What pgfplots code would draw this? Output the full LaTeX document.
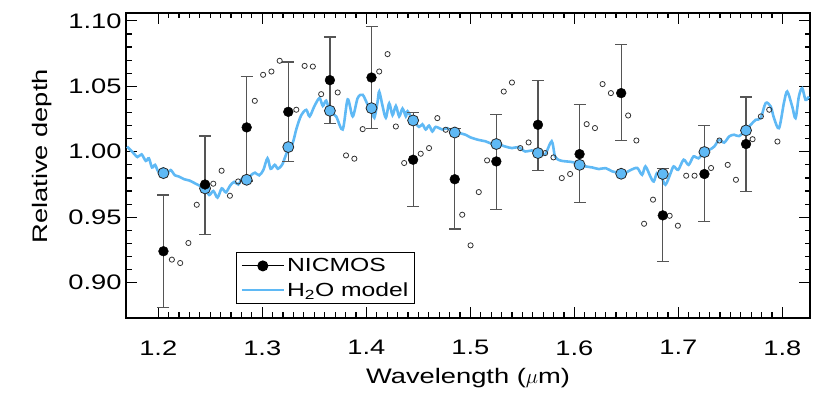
\documentclass[border=0pt]{standalone}
\usepackage{fontspec}
\setmainfont{Liberation Sans}[FakeStretch=1.3]
\usepackage{pgfplots}
\usepackage{pgfplotstable}
\pgfplotsset{compat=1.18}
\definecolor{modelblue}{RGB}{95,185,245}
\definecolor{barcol}{RGB}{85,85,85}

\pgfplotstableread{
x y
1.170 1.004
1.175 1.000
1.180 0.996
1.184 0.998
1.188 0.993
1.191 0.995
1.194 0.988
1.197 0.990
1.200 0.985
1.204 0.987
1.208 0.984
1.212 0.986
1.216 0.982
1.220 0.981
1.225 0.979
1.230 0.978
1.235 0.976
1.240 0.974
1.245 0.972
1.249 0.967
1.253 0.970
1.257 0.965
1.261 0.972
1.265 0.969
1.269 0.974
1.273 0.977
1.277 0.975
1.281 0.980
1.285 0.979
1.289 0.982
1.293 0.984
1.297 0.982
1.301 0.986
1.305 0.995
1.308 0.987
1.312 0.990
1.315 0.987
1.319 0.990
1.322 0.996
1.325 1.002
1.329 1.006
1.333 1.018
1.3375 1.028
1.3423 1.032
1.3455 1.027
1.3502 1.035
1.3550 1.041
1.3582 1.035
1.3614 1.039
1.365 1.031
1.3710 1.027
1.3773 1.017
1.3821 1.040
1.3869 1.027
1.3917 1.041
1.3965 1.0435
1.4013 1.036
1.405 1.033
1.4077 1.026
1.4108 1.038
1.4124 1.046
1.4156 1.035
1.4188 1.026
1.4220 1.037
1.4252 1.028
1.4284 1.035
1.4316 1.027
1.4348 1.033
1.4380 1.027
1.4396 1.031
1.445 1.024
1.4507 1.019
1.4539 1.021
1.4571 1.017
1.4603 1.020
1.4635 1.0155
1.4667 1.019
1.4731 1.017
1.4779 1.018
1.4827 1.0155
1.4855 1.0147
1.4890 1.0143
1.4954 1.013
1.5000 1.011
1.5081 1.009
1.5145 1.008
1.5209 1.006
1.525 1.006
1.5336 1.004
1.5400 1.0028
1.5464 1.0035
1.5527 1.0002
1.5591 1.001
1.565 0.999
1.5718 0.998
1.5782 1.008
1.5814 0.9964
1.5861 0.9934
1.5925 0.9926
1.5989 0.992
1.605 0.990
1.6108 0.9888
1.6172 0.988
1.6236 0.9868
1.6300 0.9875
1.6364 0.985
1.6428 0.984
1.645 0.9837
1.6492 0.984
1.6540 0.986
1.6604 0.9876
1.6651 0.9824
1.6683 0.9888
1.6731 0.981
1.6763 0.9773
1.6794 0.9837
1.6836 0.981
1.6875 0.9748
1.6922 0.983
1.6954 0.9888
1.6998 0.9862
1.7050 0.9939
1.7098 0.990
1.7145 0.9964
1.7193 0.995
1.725 1.000
1.7297 1.0015
1.7345 1.004
1.7392 1.0092
1.7440 1.007
1.7488 1.0117
1.7536 1.013
1.7584 1.012
1.765 1.0168
1.7695 1.0206
1.7743 1.0244
1.7791 1.0257
1.7839 1.0372
1.7887 1.0346
1.7919 1.0257
1.7967 1.018
1.8014 1.0372
1.8046 1.046
1.8094 1.0346
1.8126 1.0257
1.8158 1.0422
1.8190 1.0486
1.8222 1.0397
1.8254 1.0422
}\modeltab

\pgfplotstableread{
x y
1.205 0.9837
1.245 0.9720
1.285 0.9786
1.325 1.0036
1.365 1.0313
1.405 1.0333
1.445 1.0239
1.485 1.0147
1.525 1.0059
1.565 0.9990
1.605 0.9900
1.645 0.9832
1.685 0.9830
1.725 0.9998
1.765 1.0163
}\bintab

\pgfplotstableread{
x y ep em
1.205 0.9240 0.043 0.043
1.245 0.9750 0.037 0.038
1.285 1.0186 0.039 0.041
1.325 1.0305 0.038 0.038
1.365 1.0547 0.033 0.033
1.405 1.0567 0.039 0.039
1.445 0.9939 0.036 0.036
1.485 0.9790 0.039 0.038
1.525 0.9926 0.036 0.037
1.565 1.0206 0.034 0.035
1.605 0.9982 0.038 0.037
1.645 1.0448 0.037 0.036
1.685 0.9514 0.036 0.035
1.725 0.9830 0.037 0.036
1.765 1.0059 0.036 0.036
}\nictab

\pgfplotstableread{
x y
1.2131 0.9176
1.2211 0.9150
1.2290 0.9303
1.2370 0.9595
1.2529 0.9756
1.2609 0.9855
1.2689 0.9664
1.2768 0.9773
1.2928 1.0389
1.3008 1.0588
1.3088 1.0613
1.3167 1.0695
1.3327 1.0321
1.3407 1.0656
1.3486 1.0651
1.3566 1.0440
1.3725 1.0453
1.3805 0.9972
1.3885 0.9947
1.3965 1.0173
1.4124 1.0613
1.4204 1.0746
1.4284 1.0193
1.4364 0.9914
1.4523 0.9985
1.4603 1.0028
1.4683 1.0257
1.4763 1.0168
1.4922 0.9519
1.5002 0.9285
1.5081 0.9692
1.5161 0.9934
1.5321 1.0460
1.5400 1.0529
1.5480 1.0028
1.5560 1.0071
1.5719 0.9990
1.5799 0.9957
1.5879 0.9799
1.5959 0.9830
1.6118 1.0211
1.6198 1.0181
1.6271 1.0517
1.6351 1.0448
1.6517 1.0277
1.6596 1.0086
1.6670 0.9450
1.6756 0.9634
1.6916 0.9511
1.6995 0.9435
1.7075 0.9817
1.7155 0.9817
1.7314 0.9876
1.7394 1.0086
1.7474 0.9900
1.7553 0.9786
1.7713 1.0096
1.7793 1.0270
1.7873 1.0321
1.7952 1.0078
}\opentab

\begin{document}
\begin{tikzpicture}
\begin{axis}[name=ax,
  width=684pt, height=305pt, scale only axis,
  xmin=1.169, xmax=1.8265, ymin=0.873, ymax=1.106,
  xtick={1.2,1.3,1.4,1.5,1.6,1.7,1.8},
  ytick={0.90,0.95,1.00,1.05,1.10},
  minor x tick num=9, minor y tick num=4,
  tick align=inside,
  xtick pos=both, ytick pos=both,
  axis line style={line width=1.6pt},
  major tick length=11pt, minor tick length=5.5pt,
  every tick/.style={black, line width=1.2pt},
  tick label style={font=\fontsize{21}{25}\selectfont},
  /pgf/number format/assume math mode=true,
  xticklabel style={yshift=-19pt, /pgf/number format/.cd, fixed, fixed zerofill, precision=1},
  yticklabel style={xshift=-1pt, /pgf/number format/.cd, fixed, fixed zerofill, precision=2},
  xlabel={Wavelength ($\mu$m)}, ylabel={Relative depth},
  every axis x label/.style={at={(rel axis cs:0.5,-0.197)}, anchor=center, font=\fontsize{21}{25}\selectfont},
  every axis y label/.style={at={(rel axis cs:-0.1228,0.53)}, rotate=90, anchor=center, font=\fontsize{21}{25}\selectfont},
  legend style={at={(rel axis cs:0.161,0.046)}, anchor=south west, draw=black, line width=0.8pt,
    font=\fontsize{19}{22}\selectfont, inner xsep=4pt, inner ysep=4pt, row sep=5pt},
  legend cell align=left,
  legend image code/.code={\draw[mark repeat=2,mark phase=2,#1] plot coordinates {(0pt,0pt) (21pt,0pt) (42pt,0pt)};},
]
\addlegendimage{black, line width=1pt, mark=*, mark size=5pt}
\addlegendentry{NICMOS}
\addplot[modelblue, line width=2.6pt, smooth, tension=0.5] table[x=x,y=y] {\modeltab};
\addlegendentry{H\textsubscript{2}O\ model}

\addplot[forget plot, only marks, mark=*, mark size=5.5pt,
  mark options={fill=modelblue, draw=black!85, line width=0.8pt}] table[x=x,y=y] {\bintab};

\addplot[forget plot, only marks, mark=o, mark size=2.6pt,
  mark options={draw=black!80, line width=0.8pt}] table[x=x,y=y] {\opentab};

\addplot[forget plot, only marks, mark=*, mark size=4.9pt, black,
  error bars/.cd, y dir=both, y explicit,
  error bar style={barcol, line width=1.2pt},
  error mark options={barcol, rotate=90, mark size=6pt, line width=1.2pt}]
  table[x=x, y=y, y error plus=ep, y error minus=em] {\nictab};
\end{axis}
\pgfresetboundingbox
\path[use as bounding box] ([shift={(-126pt,-75pt)}]ax.south west) rectangle ([shift={(5pt,13pt)}]ax.north east);
\end{tikzpicture}
\end{document}
